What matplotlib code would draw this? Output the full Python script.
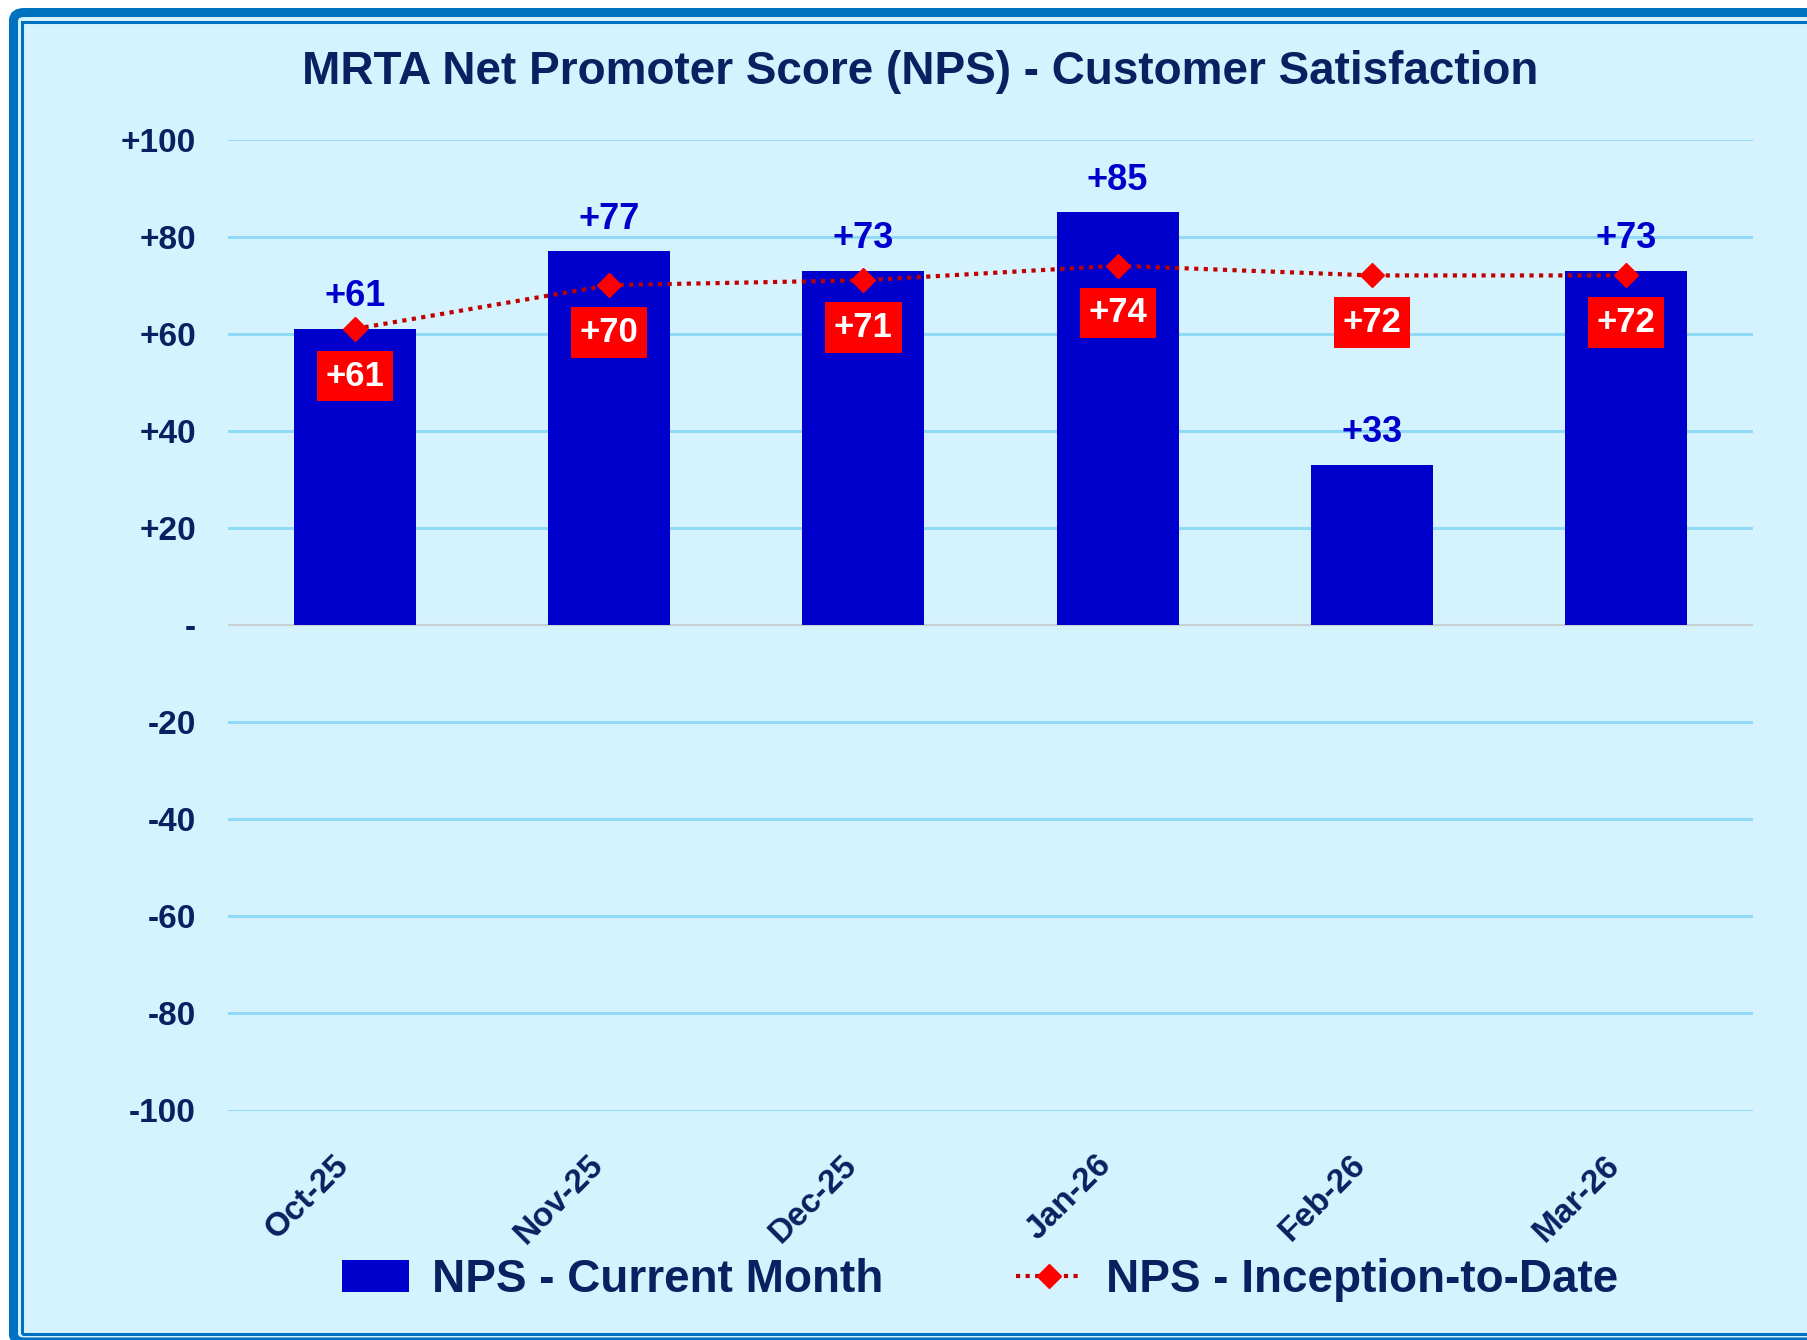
import numpy as np
import matplotlib
matplotlib.use("Agg")
import matplotlib.pyplot as plt
from matplotlib.patches import FancyBboxPatch, Rectangle
from matplotlib.lines import Line2D
from matplotlib.patches import Patch

plt.rcParams['font.family'] = ['Liberation Sans', 'DejaVu Sans']
plt.rcParams['font.weight'] = 'bold'

# data
months = ["Oct-25", "Nov-25", "Dec-25", "Jan-26", "Feb-26", "Mar-26"]
nps_month = [61, 77, 73, 85, 33, 73]
nps_itd = [61, 70, 71, 74, 72, 72]
yticks = [-100, -80, -60, -40, -20, 0, 20, 40, 60, 80, 100]

navy = "#0A2060"
bar_blue = "#0000CC"
bg = "#D5F3FE"
frame_blue = "#0070C0"

W, H = 1808, 1340
fig = plt.figure(figsize=(W / 100, H / 100), dpi=100, facecolor="white")

# background frame (px -> figure fraction)
def fx(px): return px / W
def fy(py): return 1 - py / H

outer = FancyBboxPatch((fx(13.5), fy(1342)), 1.2, fy(12.5) - fy(1342),
                       boxstyle="round,pad=0,rounding_size=0.006",
                       transform=fig.transFigure, facecolor=bg,
                       edgecolor=frame_blue, linewidth=6.5, zorder=-3)
fig.patches.append(outer)
inner = Rectangle((fx(22), fy(1333.5)), 1.2, fy(21.5) - fy(1333.5),
                  transform=fig.transFigure, facecolor="none",
                  edgecolor=frame_blue, linewidth=2.2, zorder=-2)
fig.patches.append(inner)

ax = fig.add_axes([fx(228), fy(1110.5), fx(1753) - fx(228), fy(139.5) - fy(1110.5)])
ax.set_facecolor("none")
ax.set_zorder(2)
x = np.arange(len(months))

ax.bar(x, nps_month, width=0.48, color=bar_blue, zorder=2)
ax.plot(x, nps_itd, color="#C00000", linestyle=(0, (1, 1.3)), linewidth=3,
        zorder=3)
ax.plot(x, nps_itd, linestyle="none", marker="D", markersize=12,
        color="#FF0000", zorder=4)

for xi, v in zip(x, nps_month):
    ax.annotate(f"+{v}", (xi, v), xytext=(0, 23), textcoords="offset points",
                ha="center", va="center", fontsize=26, color=bar_blue,
                fontweight="bold", zorder=5)
for xi, v in zip(x, nps_itd):
    ax.annotate(f"+{v}", (xi, v), xytext=(0, -34), textcoords="offset points",
                ha="center", va="center", fontsize=25, color="white",
                fontweight="bold", zorder=6,
                bbox=dict(boxstyle="square,pad=0.25", facecolor="#FF0000",
                          edgecolor="none"))

ax.set_xlim(-0.5, len(months) - 0.5)
ax.set_ylim(-100, 100)
ax.set_yticks(yticks)
ax.set_yticklabels([f"+{t}" if t > 0 else ("-" if t == 0 else str(t)) for t in yticks],
                   fontsize=24, color=navy, fontweight="bold")
ax.tick_params(axis="y", length=0, pad=23)
for t in yticks:
    if t == 0:
        ax.axhline(t, color="#C8D0D4", linewidth=1.6, zorder=1)
    else:
        ax.axhline(t, color="#8FDBF7", linewidth=2.2, zorder=1)

ax.set_xticks(x)
ax.set_xticklabels(months, rotation=45, ha="right", va="top", fontsize=24,
                   color=navy, fontweight="bold")
ax.tick_params(axis="x", length=0, pad=28)

for s in ax.spines.values():
    s.set_visible(False)

fig.text(fx(920), fy(71.5),
         "MRTA Net Promoter Score (NPS) - Customer Satisfaction",
         ha="center", va="center", fontsize=33, color=navy, fontweight="bold")

handles = [Patch(facecolor=bar_blue, edgecolor="none"),
           Line2D([0], [0], color="#C00000", linestyle=(0, (1, 1.3)), linewidth=3,
                  marker="D", markersize=12, markerfacecolor="#FF0000",
                  markeredgecolor="#FF0000")]
leg = fig.legend(handles, ["NPS - Current Month", "NPS - Inception-to-Date"],
                 loc="center", bbox_to_anchor=(fx(980), fy(1280)), ncol=2,
                 frameon=False, handlelength=1.46, handleheight=0.7,
                 handletextpad=0.5, columnspacing=2.9,
                 prop={"size": 33, "weight": "bold"})
for t in leg.get_texts():
    t.set_color(navy)

fig.savefig("out.png", dpi=100, facecolor="white")
